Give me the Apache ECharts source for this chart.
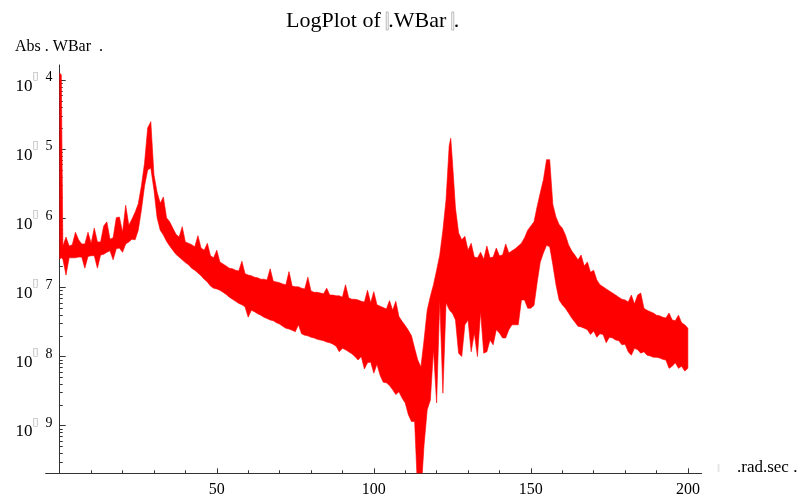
<!DOCTYPE html>
<html><head><meta charset="utf-8">
<script src="https://cdn.jsdelivr.net/npm/echarts@6/dist/echarts.min.js"></script>
<style>html,body{margin:0;padding:0;background:#fff}#c{width:802px;height:498px}</style>
</head><body><div id="c"></div><script>
// frequency samples (rad/sec)
const omega = [0,0.5,1,2,3,4,5,6,7,8,9,10,11,12,13,14,15,16,17,18,19,20,21,22,23,24,25,26,27,28,29,30,31,32,33,34,35,36,37,38,39,40,41,42,43,44,45,46,47,48,49,50,51,52,53,54,55,56,57,58,59,60,61,62,63,64,65,66,67,68,69,70,71,72,73,74,75,76,77,78,79,80,81,82,83,84,85,86,87,88,89,90,91,92,93,94,95,96,97,98,99,100,101,102,103,104,105,106,107,108,109,110,111,112,113,114,115,116,117,118,119,120,121,122,123,124,124.5,125,126,127,128,129,130,131,132,133,134,135,136,137,138,139,140,141,142,143,144,145,146,147,148,149,150,151,152,153,154,155,156,157,158,159,160,161,162,163,164,165,166,167,168,169,170,171,172,173,174,175,176,177,178,179,180,181,182,183,184,185,186,187,188,189,190,191,192,193,194,195,196,197,198,199,200];
// log10 |WBar| : upper edge of the oscillation band
const upperExp = [-3.90,-3.92,-6.40,-6.27,-6.40,-6.38,-6.20,-6.31,-6.37,-6.37,-6.20,-6.36,-6.14,-6.34,-6.34,-6.11,-6.05,-6.30,-6.28,-5.99,-5.98,-6.20,-5.81,-6.10,-6.01,-5.91,-5.79,-5.53,-5.20,-4.69,-4.60,-5.37,-5.62,-5.78,-5.69,-5.99,-6.05,-6.14,-6.23,-6.27,-6.12,-6.34,-6.36,-6.38,-6.41,-6.25,-6.43,-6.46,-6.36,-6.54,-6.57,-6.46,-6.63,-6.66,-6.69,-6.72,-6.73,-6.75,-6.76,-6.62,-6.80,-6.82,-6.83,-6.85,-6.86,-6.88,-6.88,-6.89,-6.73,-6.91,-6.92,-6.93,-6.95,-6.96,-6.77,-6.98,-6.99,-6.99,-7.01,-7.02,-6.85,-7.05,-7.07,-7.07,-7.08,-7.09,-7.01,-7.11,-7.11,-7.12,-7.12,-7.14,-6.96,-7.15,-7.17,-7.17,-7.18,-7.20,-7.21,-7.04,-7.22,-7.06,-7.25,-7.27,-7.29,-7.31,-7.19,-7.33,-7.20,-7.42,-7.49,-7.55,-7.62,-7.70,-7.88,-8.05,-8.15,-7.76,-7.33,-7.13,-6.96,-6.75,-6.53,-6.17,-5.73,-4.95,-4.84,-5.15,-5.85,-6.21,-6.31,-6.26,-6.46,-6.36,-6.56,-6.57,-6.49,-6.59,-6.40,-6.57,-6.56,-6.43,-6.54,-6.53,-6.37,-6.50,-6.47,-6.44,-6.40,-6.36,-6.28,-6.17,-6.11,-6.05,-5.83,-5.63,-5.44,-5.15,-5.15,-5.80,-5.98,-6.09,-6.14,-6.24,-6.38,-6.47,-6.53,-6.60,-6.53,-6.69,-6.63,-6.78,-6.75,-6.89,-6.96,-6.99,-7.02,-7.05,-7.08,-7.11,-7.14,-7.17,-7.18,-7.21,-7.11,-7.24,-7.11,-7.08,-7.30,-7.33,-7.35,-7.37,-7.40,-7.41,-7.43,-7.44,-7.37,-7.47,-7.48,-7.40,-7.51,-7.54,-7.59];
// log10 |WBar| : lower edge of the oscillation band
const lowerExp = [-6.59,-6.57,-6.59,-6.82,-6.57,-6.57,-6.57,-6.56,-6.56,-6.72,-6.55,-6.54,-6.54,-6.72,-6.53,-6.52,-6.49,-6.47,-6.60,-6.44,-6.43,-6.49,-6.37,-6.34,-6.30,-6.31,-6.17,-5.88,-5.53,-5.30,-5.27,-5.59,-5.99,-6.17,-6.24,-6.33,-6.40,-6.46,-6.52,-6.56,-6.60,-6.64,-6.67,-6.72,-6.75,-6.79,-6.83,-6.88,-6.92,-6.98,-7.01,-7.02,-7.04,-7.07,-7.10,-7.14,-7.17,-7.20,-7.23,-7.25,-7.28,-7.43,-7.33,-7.35,-7.38,-7.40,-7.43,-7.45,-7.47,-7.48,-7.51,-7.53,-7.56,-7.59,-7.60,-7.62,-7.64,-7.54,-7.67,-7.69,-7.70,-7.72,-7.73,-7.75,-7.76,-7.77,-7.79,-7.80,-7.82,-7.85,-7.93,-7.88,-7.90,-7.93,-7.96,-8.00,-8.05,-8.00,-8.18,-8.09,-8.08,-8.24,-8.11,-8.27,-8.37,-8.38,-8.42,-8.48,-8.55,-8.51,-8.60,-8.67,-8.84,-8.94,-8.94,-10.0,-10.0,-9.28,-8.77,-8.63,-7.90,-8.67,-7.18,-8.53,-7.22,-7.32,-7.35,-7.37,-7.47,-7.95,-8.00,-7.54,-7.47,-7.93,-7.66,-8.00,-7.35,-7.95,-7.93,-7.76,-7.83,-7.61,-7.66,-7.73,-7.73,-7.61,-7.54,-7.54,-7.54,-7.18,-7.18,-7.30,-7.30,-7.26,-6.93,-6.63,-6.50,-6.39,-6.41,-6.67,-6.96,-7.18,-7.25,-7.30,-7.37,-7.44,-7.50,-7.56,-7.57,-7.59,-7.61,-7.68,-7.63,-7.72,-7.67,-7.68,-7.80,-7.72,-7.73,-7.76,-7.77,-7.83,-7.82,-7.93,-7.98,-7.88,-7.90,-7.95,-7.93,-7.98,-7.99,-8.01,-8.01,-8.02,-8.04,-8.05,-8.17,-8.14,-8.09,-8.17,-8.14,-8.21,-8.17];
const xMajorTicks = [50,100,150,200];
const xMinorTicks = [10,20,30,40,60,70,80,90,110,120,130,140,160,170,180,190];
const yMajorExps = [-9,-8,-7,-6,-5,-4];
const yMinorMult = [2,3,4,5,6,7,8,9];

const upper = upperExp.map(e => Math.pow(10, e));
const lower = lowerExp.map(e => Math.pow(10, e));
const yMajor = yMajorExps.map(e => Math.pow(10, e));
const yMinor = [];
for (let n = -10; n <= -4; n++) for (const k of yMinorMult) yMinor.push(k * Math.pow(10, n));

const FONT = 'Liberation Serif';
const Y_MIN = Math.pow(10, -9.689), Y_MAX = Math.pow(10, -3.78);
const X_MIN = -4.5, X_MAX = 204.4;
const AX = '#333';

const chart = echarts.init(document.getElementById('c'), null, {renderer: 'canvas'});
const boxStyle = (h) => ({width: 2, height: h, borderColor: '#aaa', borderWidth: 0.8});

chart.setOption({
  animation: false,
  backgroundColor: '#fff',
  title: [
    {text: '{t|LogPlot of }{m| }{t|.WBar }{m| }{t|.}', left: 286, top: 10, padding: 0,
     textStyle: {rich: {t: {fontFamily: FONT, fontSize: 22, fontWeight: 'normal', color: '#000'}, m: Object.assign(boxStyle(14), {padding: [0,0,4,0]})}}},
    {text: 'Abs . WBar  .', left: 15, top: 39, padding: 0,
     textStyle: {fontFamily: FONT, fontSize: 16, fontWeight: 'normal', color: '#000'}},
    {text: '{m| }{g| }{t|.rad.sec .}', left: 718, top: 459, padding: 0,
     textStyle: {rich: {t: {fontFamily: FONT, fontSize: 17, fontWeight: 'normal', color: '#000'}, g: {width: 18}, m: {width: 1, height: 7, borderColor: '#ddd', borderWidth: 0.8}}}}
  ],
  grid: {left: 45.6, right: 100.3, top: 65, bottom: 24.7, containLabel: false},
  xAxis: [
    {type: 'value', min: X_MIN, max: X_MAX, position: 'bottom',
     axisLine: {onZero: false, lineStyle: {color: AX, width: 1}},
     axisTick: {inside: true, length: 5, customValues: xMajorTicks, lineStyle: {color: AX}},
     axisLabel: {customValues: xMajorTicks, fontFamily: FONT, fontSize: 16, color: '#000', margin: 8},
     splitLine: {show: false}},
    {type: 'value', min: X_MIN, max: X_MAX, position: 'bottom',
     axisLine: {show: false, onZero: false},
     axisTick: {inside: true, length: 3, customValues: xMinorTicks, lineStyle: {color: AX}},
     axisLabel: {show: false}, splitLine: {show: false}}
  ],
  yAxis: [
    {type: 'log', logBase: 10, min: Y_MIN, max: Y_MAX, position: 'left',
     axisLine: {onZero: true, lineStyle: {color: AX, width: 1}},
     axisTick: {inside: true, length: 6, customValues: yMajor, lineStyle: {color: AX}},
     axisLabel: {customValues: yMajor, margin: -7,
       formatter: (v) => '{b|10}{m|\u25AF}{g| }{s|' + (-Math.round(Math.log10(v))) + '}',
       rich: {
         b: {fontFamily: FONT, fontSize: 17, color: '#000', padding: [12,0,0,0]},
         m: {fontFamily: 'DejaVu Sans', fontSize: 11, color: '#aaa', padding: [0,0,8,0]},
         g: {width: 7},
         s: {fontFamily: FONT, fontSize: 14, color: '#000', padding: [0,0,5,0]}
       }},
     splitLine: {show: false}},
    {type: 'log', logBase: 10, min: Y_MIN, max: Y_MAX, position: 'left',
     axisLine: {show: false, onZero: true},
     axisTick: {inside: true, length: 3, customValues: yMinor, lineStyle: {color: AX}},
     axisLabel: {show: false}, splitLine: {show: false}}
  ],
  series: [{
    type: 'custom',
    xAxisIndex: 0, yAxisIndex: 0,
    clip: true, silent: true,
    encode: {x: 0, y: [1, 2]},
    data: omega.map((w, i) => [w, upper[i], lower[i]]),
    renderItem: (params, api) => {
      if (params.dataIndex !== 0) return null;
      const pts = [];
      for (let i = 0; i < omega.length; i++) pts.push(api.coord([omega[i], upper[i]]));
      for (let i = omega.length - 1; i >= 0; i--) pts.push(api.coord([omega[i], lower[i]]));
      return {type: 'polygon', shape: {points: pts},
              style: {fill: '#ff0000', stroke: '#ff0000', lineWidth: 0.6, lineJoin: 'miter'}};
    }
  }]
});
</script></body></html>
